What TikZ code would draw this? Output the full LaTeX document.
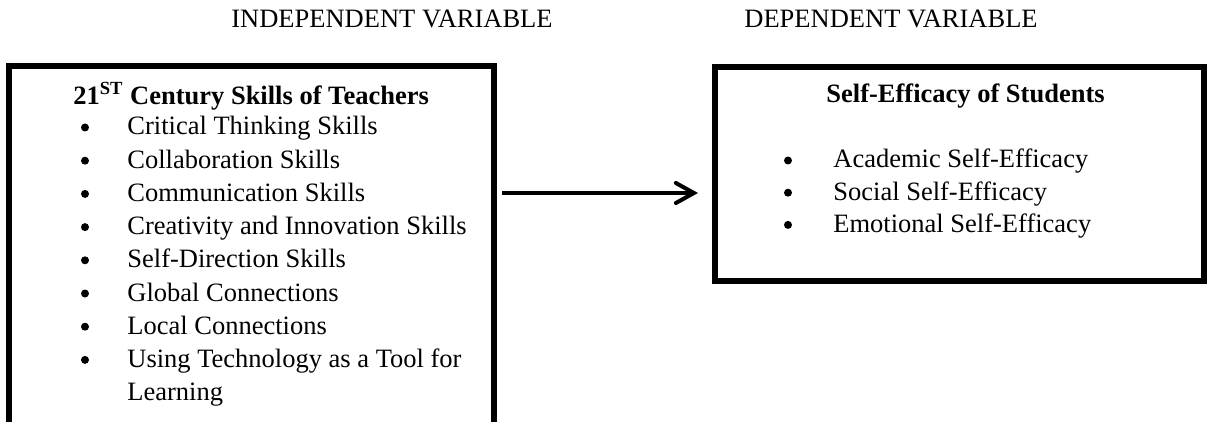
\documentclass[tikz,border=0pt]{standalone}
\usepackage{fontspec}
\setmainfont{Liberation Serif}
\usetikzlibrary{arrows.meta}

\begin{document}
\begin{tikzpicture}[x=0.5pt,y=-0.5pt,
  txt/.style={inner sep=0pt,anchor=base west,font=\fontsize{13.25pt}{16.6pt}\selectfont},
  head/.style={txt,font=\fontsize{13.25pt}{16.6pt}\selectfont\bfseries},
  dot/.style={circle,fill,inner sep=0pt,minimum size=4pt},
  box/.style={draw,line width=3pt,outer sep=0pt,inner sep=0pt,anchor=north west},
  flow/.style={line width=2pt,-{Straight Barb[length=9pt,width=10pt,line cap=round]}}]
\useasboundingbox (0,0) rectangle (1208,422);
\clip (0,0) rectangle (1208,422);
\node [txt] (indephead) at (231,28) {INDEPENDENT VARIABLE};
\node [txt] (dephead) at (744,28) {DEPENDENT VARIABLE};
\node [box,minimum width=242.5pt,minimum height=206.75pt] (indep) at (9,66.5) {};
\node [box,minimum width=244.75pt,minimum height=106.75pt] (dep) at (714.5,67) {};
\node [head] (indeptitle) at (73,105) {21\textsuperscript{ST} Century Skills of Teachers};
\foreach \item [count=\i] in {Critical Thinking Skills,Collaboration Skills,Communication Skills,
  Creativity and Innovation Skills,Self-Direction Skills,Global Connections,Local Connections,
  Using Technology as a Tool for}{
  \node [dot] (lb\i) at (85,{127.5+33.2*(\i-1)}) {};
  \node [txt] (li\i) at (127,{135+33.2*(\i-1)}) {\item};
}
\node [txt] (li9) at (127,400) {Learning};
\node [head] (deptitle) at (826,103) {Self-Efficacy of Students};
\foreach \item [count=\i] in {Academic Self-Efficacy,Social Self-Efficacy,Emotional Self-Efficacy}{
  \node [dot] (rb\i) at (788,{160.5+32.2*(\i-1)}) {};
  \node [txt] (ri\i) at (833,{168+32.2*(\i-1)}) {\item};
}
\coordinate (arrowrow) at (0,193);
\draw [flow,shorten <=4pt,shorten >=8.25pt] (indep.east |- arrowrow) -- (dep.west |- arrowrow);
\end{tikzpicture}
\end{document}
